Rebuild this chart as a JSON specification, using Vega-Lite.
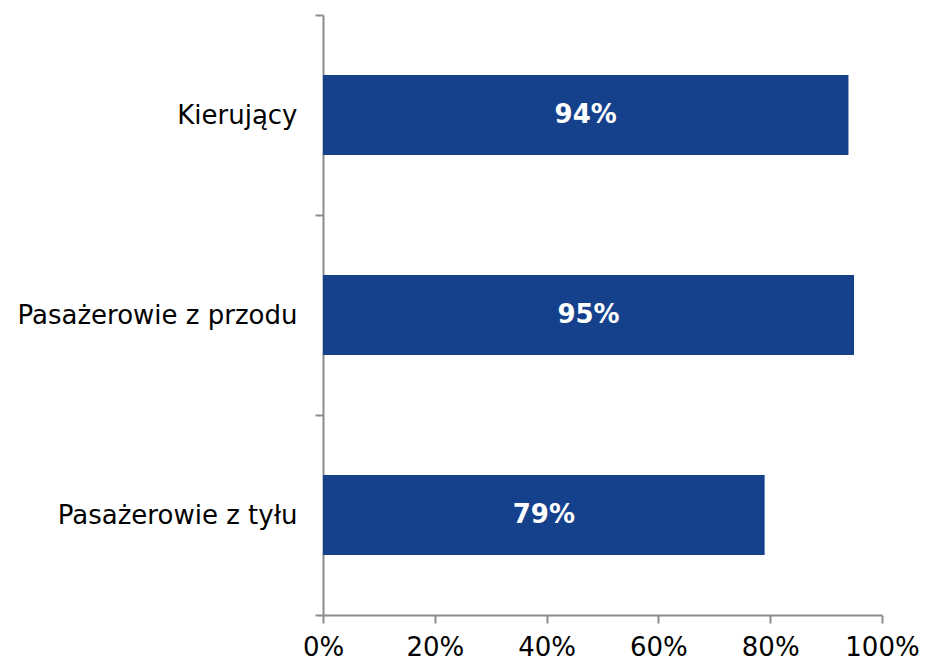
{
  "$schema": "https://vega.github.io/schema/vega-lite/v6.json",
  "autosize": "none",
  "width": 559,
  "height": 600,
  "padding": {"left": 323, "top": 15, "right": 43, "bottom": 45},
  "background": "white",
  "config": {"view": {"stroke": null}, "font": "DejaVu Sans"},
  "data": {"values": [
    {"kategoria": "Kierujący", "wartosc": 0.94},
    {"kategoria": "Pasażerowie z przodu", "wartosc": 0.95},
    {"kategoria": "Pasażerowie z tyłu", "wartosc": 0.79}
  ]},
  "encoding": {
    "y": {"field": "kategoria", "type": "nominal", "sort": null,
      "scale": {"paddingInner": 0, "paddingOuter": 0},
      "axis": {"title": null, "tickBand": "extent", "domainColor": "#8c8c8c", "tickColor": "#8c8c8c", "domainWidth": 2, "tickWidth": 2, "tickSize": 8, "labelFontSize": 26, "labelColor": "#000", "labelPadding": 18, "labelFont": "DejaVu Sans", "labelLimit": 0}},
    "x": {"field": "wartosc", "type": "quantitative",
      "scale": {"domain": [0, 1], "nice": false},
      "axis": {"title": null, "format": ".0%", "values": [0, 0.2, 0.4, 0.6, 0.8, 1], "grid": false, "domainColor": "#8c8c8c", "tickColor": "#8c8c8c", "domainWidth": 2, "tickWidth": 2, "tickSize": 8, "labelFontSize": 26, "labelColor": "#000", "labelPadding": 11, "labelFont": "DejaVu Sans", "labelFlush": false}}
  },
  "layer": [
    {"mark": {"type": "bar", "color": "#15418c", "height": {"band": 0.4}}},
    {"mark": {"type": "text", "color": "white", "fontWeight": "bold", "fontSize": 26, "font": "DejaVu Sans", "baseline": "middle", "letterSpacing": 1.5},
      "encoding": {
        "x": {"field": "wartosc", "type": "quantitative", "stack": "zero", "bandPosition": 0.5},
        "text": {"field": "wartosc", "type": "quantitative", "format": ".0%"}
      }}
  ]
}
